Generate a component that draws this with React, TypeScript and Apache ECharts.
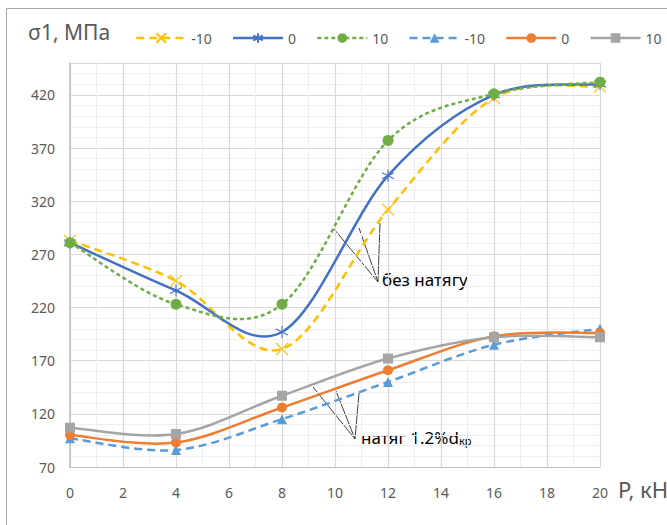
import React, { useEffect, useRef } from "react";
import * as echarts from "echarts";

const xValues = [0, 4, 8, 12, 16, 20];
const seriesNames = ["-10", "0", "10", "-10", "0", "10"];
const noTensionMinus10 = [283, 245, 181, 312, 417, 428];
const noTension0 = [281, 236, 197, 344, 420, 430];
const noTension10 = [281, 223, 223, 377, 421, 432];
const tensionMinus10 = [97, 86, 115, 150, 185, 200];
const tension0 = [100, 93, 126, 161, 193, 196];
const tension10 = [107, 101, 137, 172, 192, 192];

const crossPath = "path://M0,0L10,10M10,0L0,10";
const starPath = "path://M5,0L5,10M0,2.5L10,7.5M0,7.5L10,2.5";

type Spec = {
  vals: number[];
  color: string;
  dash: number[] | null;
  symbol: string;
  size: number;
  hollow: boolean;
};

const specs: Spec[] = [
  { vals: noTensionMinus10, color: "#FFC000", dash: [8, 5], symbol: crossPath, size: 12, hollow: true },
  { vals: noTension0, color: "#4472C4", dash: null, symbol: starPath, size: 12, hollow: true },
  { vals: noTension10, color: "#70AD47", dash: [4, 3], symbol: "circle", size: 11, hollow: false },
  { vals: tensionMinus10, color: "#5B9BD5", dash: [8, 5], symbol: "triangle", size: 10, hollow: false },
  { vals: tension0, color: "#ED7D31", dash: null, symbol: "circle", size: 10, hollow: false },
  { vals: tension10, color: "#A5A5A5", dash: null, symbol: "rect", size: 10, hollow: false },
];

export default function App() {
  const ref = useRef<HTMLDivElement>(null);
  useEffect(() => {
    if (!ref.current) return;
    const chart = echarts.init(ref.current, null, { renderer: "svg" });
    const mk = (vals: number[]) => vals.map((v, i) => [xValues[i], v]);
    const font = "'Noto Sans', 'DejaVu Sans', sans-serif";

    const curveSeries = specs.map((s, k) => ({
      type: "custom",
      name: "c" + k,
      z: 1,
      silent: true,
      data: mk(s.vals),
      renderItem: (params: any, api: any) => {
        if (params.dataIndex !== 0) return null;
        const pts = mk(s.vals).map((p) => api.coord(p));
        const n = pts.length;
        let d = `M${pts[0][0]},${pts[0][1]}`;
        for (let i = 0; i < n - 1; i++) {
          const p0 = pts[Math.max(0, i - 1)];
          const p1 = pts[i];
          const p2 = pts[i + 1];
          const p3 = pts[Math.min(n - 1, i + 2)];
          const c1x = p1[0] + (p2[0] - p0[0]) / 6;
          const c1y = p1[1] + (p2[1] - p0[1]) / 6;
          const c2x = p2[0] - (p3[0] - p1[0]) / 6;
          const c2y = p2[1] - (p3[1] - p1[1]) / 6;
          d += ` C${c1x},${c1y} ${c2x},${c2y} ${p2[0]},${p2[1]}`;
        }
        return {
          type: "path",
          shape: { pathData: d },
          style: {
            fill: "none",
            stroke: s.color,
            lineWidth: 2.5,
            lineDash: s.dash || undefined,
          },
        };
      },
    }));

    const pointSeries = specs.map((s, k) => ({
      name: "s" + k,
      type: "line",
      z: 3,
      data: mk(s.vals),
      symbol: s.symbol,
      symbolSize: s.size,
      lineStyle: { color: s.color, width: 2.5, opacity: 0, type: s.dash || "solid" },
      itemStyle: s.hollow
        ? { color: "transparent", borderColor: s.color, borderWidth: 1.1 }
        : { color: s.color },
    }));

    chart.setOption({
      animation: false,
      textStyle: { fontFamily: font },
      grid: { left: 70, right: 67, top: 63, bottom: 58 },
      legend: {
        left: 130,
        top: 26,
        itemWidth: 50,
        itemHeight: 12,
        itemGap: 20,
        textStyle: { fontSize: 14, color: "#595959", fontFamily: font },
        data: specs.map((s, k) => ({
          name: "s" + k,
          lineStyle: { color: s.color, width: 2.5, opacity: 1, type: s.dash || "solid" },
        })),
        formatter: (n: string) => seriesNames[Number(n.slice(1))],
      },
      xAxis: {
        type: "value",
        min: 0,
        max: 20,
        interval: 2,
        axisLine: { show: true, lineStyle: { color: "#bfbfbf", width: 1 } },
        axisTick: { show: false },
        axisLabel: { color: "#595959", fontSize: 14, margin: 18 },
        splitLine: { show: true, lineStyle: { color: "#d9d9d9", width: 1.2 } },
        minorTick: { show: false, splitNumber: 2 },
        minorSplitLine: { show: true, lineStyle: { color: "#eeeeee", width: 1 } },
      },
      yAxis: {
        type: "value",
        min: 70,
        max: 450,
        interval: 50,
        axisLine: { show: true, lineStyle: { color: "#bfbfbf", width: 1.5 } },
        axisTick: { show: false },
        axisLabel: { color: "#595959", fontSize: 14, margin: 15, showMaxLabel: false },
        splitLine: { show: true, lineStyle: { color: "#d9d9d9", width: 1.2 } },
        minorTick: { show: false, splitNumber: 5 },
        minorSplitLine: { show: true, lineStyle: { color: "#eeeeee", width: 1 } },
      },
      series: [...curveSeries, ...pointSeries],
      graphic: [
        {
          type: "rect",
          shape: { x: 6.5, y: 8.5, width: 700, height: 600 },
          style: { fill: "none", stroke: "#a6a6a6", lineWidth: 1 },
          silent: true,
        },
        {
          type: "text",
          x: 28,
          y: 21,
          style: { text: "σ1, МПа", fontSize: 21, fill: "#595959", fontFamily: font },
        },
        {
          type: "text",
          x: 618,
          y: 478,
          style: { text: "P, кН", fontSize: 22, fill: "#595959", fontFamily: font },
        },
        { type: "line", shape: { x1: 334, y1: 229, x2: 378, y2: 282 }, style: { stroke: "#404040", lineWidth: 1 } },
        { type: "line", shape: { x1: 359, y1: 228, x2: 378, y2: 282 }, style: { stroke: "#404040", lineWidth: 1 } },
        { type: "line", shape: { x1: 380, y1: 223, x2: 378, y2: 282 }, style: { stroke: "#404040", lineWidth: 1 } },
        {
          type: "text",
          x: 382,
          y: 271,
          style: { text: "без натягу", fontSize: 17, fill: "#000000", fontFamily: font },
        },
        { type: "line", shape: { x1: 313, y1: 387, x2: 355, y2: 439 }, style: { stroke: "#404040", lineWidth: 1 } },
        { type: "line", shape: { x1: 336, y1: 391, x2: 355, y2: 439 }, style: { stroke: "#404040", lineWidth: 1 } },
        { type: "line", shape: { x1: 359, y1: 393, x2: 355, y2: 439 }, style: { stroke: "#404040", lineWidth: 1 } },
        {
          type: "text",
          x: 361,
          y: 428,
          style: {
            text: "{a|натяг 1.2%d}{b|кр}",
            fill: "#000000",
            fontFamily: font,
            rich: {
              a: { fontSize: 17, fill: "#000000", fontFamily: font },
              b: { fontSize: 11, fill: "#000000", fontFamily: font, padding: [7, 0, 0, 0] },
            },
          },
        },
      ],
    });
    return () => chart.dispose();
  }, []);
  return (
    <div
      ref={ref}
      style={{ position: "fixed", left: 0, top: 0, width: 667, height: 525, background: "#fff" }}
    />
  );
}
